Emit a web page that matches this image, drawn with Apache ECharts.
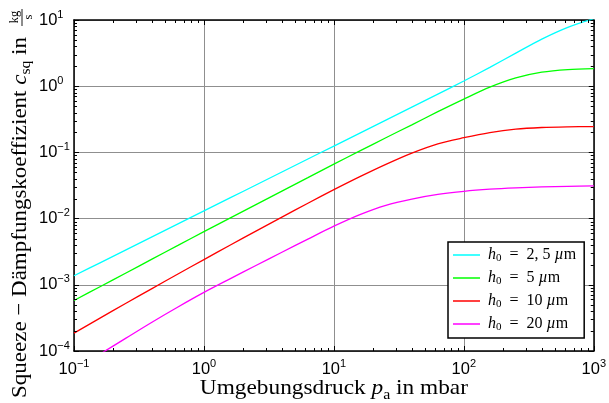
<!DOCTYPE html>
<html>
<head>
<meta charset="utf-8">
<script src="https://cdn.jsdelivr.net/npm/echarts@6/dist/echarts.min.js"></script>
<style>
  html, body { margin: 0; padding: 0; background: #fff; }
  #chart { width: 609px; height: 403px; }
</style>
</head>
<body>
<div id="chart"></div>
<script>
// Ambient pressure p_a in mbar (five samples per decade)
const pressure = [0.1, 0.1585, 0.2512, 0.3981, 0.631, 1, 1.585, 2.512, 3.981, 6.31, 10, 15.85, 25.12, 39.81, 63.1, 100, 158.5, 251.2, 398.1, 631, 1000];

// Squeeze-film damping coefficient c_sq in kg/s for each gap height h0
const csqGap2_5 = [1.368e-3, 2.148e-3, 3.373e-3, 5.297e-3, 8.318e-3, 0.01306, 0.02051, 0.03221, 0.05058, 0.07943, 0.1247, 0.1959, 0.3076, 0.4831, 0.7586, 1.197, 1.928, 3.162, 5.152, 7.762, 10.47];
const csqGap5   = [5.794e-4, 9.354e-4, 1.510e-3, 2.438e-3, 3.936e-3, 6.353e-3, 0.01016, 0.01626, 0.02600, 0.04159, 0.06653, 0.1054, 0.1663, 0.2612, 0.4121, 0.6383, 0.9661, 1.334, 1.629, 1.786, 1.845];
const csqGap10  = [1.866e-4, 3.141e-4, 5.260e-4, 8.770e-4, 1.455e-3, 2.404e-3, 3.954e-3, 6.471e-3, 0.01054, 0.01706, 0.02735, 0.04305, 0.06607, 0.09772, 0.1349, 0.1667, 0.1995, 0.2249, 0.2377, 0.2432, 0.2455];
const csqGap20  = [5.129e-5, 8.974e-5, 1.567e-4, 2.723e-4, 4.624e-4, 7.674e-4, 1.230e-3, 1.959e-3, 3.105e-3, 4.898e-3, 7.674e-3, 0.01148, 0.01585, 0.01972, 0.02317, 0.02582, 0.02780, 0.02917, 0.03013, 0.03076, 0.03112];

// Gap heights shown in the legend (µm, German decimal comma)
const gapLabels = ['2,5', '5', '10', '20'];
const seriesValues = [csqGap2_5, csqGap5, csqGap10, csqGap20];
const seriesColors = ['#00ffff', '#00ff00', '#ff0000', '#ff00ff'];

// Axis ranges (decades)
const xRange = [0.1, 1000];
const yRange = [1e-4, 10];

const SANS = 'Liberation Sans, Arial, sans-serif';
const SERIF = 'Liberation Serif, Times New Roman, serif';

const chart = echarts.init(document.getElementById('chart'), null, { renderer: 'canvas' });

function powerLabel(v) {
  const e = Math.round(Math.log10(v));
  return '{b|10}{e|' + (e < 0 ? '\u2212' + (-e) : String(e)) + '}';
}

const tickLabelRich = {
  b: { fontFamily: SANS, fontSize: 16.5, lineHeight: 22, color: '#000' },
  e: { fontFamily: SANS, fontSize: 11, lineHeight: 10, verticalAlign: 'top', color: '#000' }
};

const frameLine = { show: true, onZero: false, lineStyle: { color: '#000', width: 1.5 } };
const majorTick = { show: true, inside: true, length: 5, lineStyle: { color: '#000', width: 1 } };
const gridLine = { show: true, lineStyle: { color: '#8f8f8f', width: 1, type: 'solid' } };

function legendName(i) { return 'h0 = ' + gapLabels[i] + ' \u00b5m'; }

const legendRich = {
  h: { fontFamily: SERIF, fontStyle: 'italic', fontSize: 16, lineHeight: 18, color: '#000', padding: [0, 0, 0, 3] },
  s: { fontFamily: SERIF, fontSize: 11, lineHeight: 12, verticalAlign: 'bottom', color: '#000' },
  t: { fontFamily: SERIF, fontSize: 16, lineHeight: 18, color: '#000' },
  i: { fontFamily: SERIF, fontStyle: 'italic', fontSize: 16, lineHeight: 18, color: '#000' }
};

const option = {
  animation: false,
  backgroundColor: '#fff',
  grid: { left: 74, right: 12, top: 20, bottom: 52, containLabel: false },
  xAxis: [
    {
      type: 'log', logBase: 10, min: xRange[0], max: xRange[1], position: 'bottom',
      axisLine: frameLine, axisTick: majorTick, splitLine: gridLine,
      axisLabel: { show: true, margin: 7, formatter: powerLabel, rich: tickLabelRich }
    },
    {
      type: 'log', logBase: 10, min: xRange[0], max: xRange[1], position: 'top',
      axisLine: frameLine, axisTick: majorTick, splitLine: { show: false },
      axisLabel: { show: false }
    }
  ],
  yAxis: [
    {
      type: 'log', logBase: 10, min: yRange[0], max: yRange[1], position: 'left',
      axisLine: frameLine, axisTick: majorTick, splitLine: gridLine,
      axisLabel: { show: true, margin: 35, align: 'left', formatter: powerLabel, rich: tickLabelRich }
    },
    {
      type: 'log', logBase: 10, min: yRange[0], max: yRange[1], position: 'right',
      axisLine: frameLine, axisTick: majorTick, splitLine: { show: false },
      axisLabel: { show: false }
    }
  ],
  legend: {
    show: true, orient: 'vertical', left: 448, top: 242,
    padding: [5, 8, 5, 5], itemGap: 6, itemWidth: 27, itemHeight: 1.5,
    icon: 'rect', backgroundColor: '#fff', borderColor: '#000', borderWidth: 1.5, borderRadius: 0,
    selectedMode: false,
    data: gapLabels.map((g, i) => legendName(i)),
    formatter: function (name) {
      const i = gapLabels.findIndex((g, k) => legendName(k) === name);
      return '{h|h}{s|0}{t|  =  ' + gapLabels[i].replace(',', ', ') + ' }{i|\u00b5}{t|m}';
    },
    textStyle: { rich: legendRich }
  },
  series: seriesValues.map((vals, i) => ({
    name: legendName(i),
    type: 'line',
    xAxisIndex: 0, yAxisIndex: 0,
    data: pressure.map((p, k) => [p, vals[k]]),
    showSymbol: false, symbol: 'none',
    smooth: 0.3,
    clip: true,
    lineStyle: { color: seriesColors[i], width: 1.3 },
    itemStyle: { color: seriesColors[i] },
    z: 3
  }))
};

chart.setOption(option);

// Minor ticks at 2..9 of every decade, on all four sides, placed by the axis scales
const graphics = [];
const xl = chart.convertToPixel({ xAxisIndex: 0 }, xRange[0]);
const xr = chart.convertToPixel({ xAxisIndex: 0 }, xRange[1]);
const yb = chart.convertToPixel({ yAxisIndex: 0 }, yRange[0]);
const yt = chart.convertToPixel({ yAxisIndex: 0 }, yRange[1]);
const minorLen = 3;
const tickStyle = { stroke: '#000', lineWidth: 1 };

for (let e = Math.round(Math.log10(xRange[0])); e < Math.round(Math.log10(xRange[1])); e++) {
  for (let m = 2; m <= 9; m++) {
    const px = Math.round(chart.convertToPixel({ xAxisIndex: 0 }, m * Math.pow(10, e))) + 0.5;
    graphics.push({ type: 'line', silent: true, z: 10, shape: { x1: px, y1: yb, x2: px, y2: yb - minorLen }, style: tickStyle });
    graphics.push({ type: 'line', silent: true, z: 10, shape: { x1: px, y1: yt, x2: px, y2: yt + minorLen }, style: tickStyle });
  }
}
for (let e = Math.round(Math.log10(yRange[0])); e < Math.round(Math.log10(yRange[1])); e++) {
  for (let m = 2; m <= 9; m++) {
    const py = Math.round(chart.convertToPixel({ yAxisIndex: 0 }, m * Math.pow(10, e))) + 0.5;
    graphics.push({ type: 'line', silent: true, z: 10, shape: { x1: xl, y1: py, x2: xl + minorLen, y2: py }, style: tickStyle });
    graphics.push({ type: 'line', silent: true, z: 10, shape: { x1: xr, y1: py, x2: xr - minorLen, y2: py }, style: tickStyle });
  }
}

const titleRich = {
  t: { fontFamily: SERIF, fontSize: 22, lineHeight: 28, color: '#000' },
  i: { fontFamily: SERIF, fontStyle: 'italic', fontSize: 22, lineHeight: 28, color: '#000' },
  s: { fontFamily: SERIF, fontSize: 15, lineHeight: 17, verticalAlign: 'bottom', color: '#000' }
};

// x-axis title
graphics.push({
  type: 'text', silent: true, x: (xl + xr) / 2, y: 388.5, scaleX: 1.06,
  style: {
    text: '{t|Umgebungsdruck }{i|p}{s|a}{t| in mbar}',
    rich: titleRich, align: 'center', verticalAlign: 'middle'
  }
});

// y-axis title, read bottom to top, ending in the unit fraction kg/s
graphics.push({
  type: 'group', x: 27, y: 37, rotation: Math.PI / 2, silent: true,
  children: [
    {
      type: 'text', x: 0, y: -7, scaleX: 1.045,
      style: {
        text: '{t|Squeeze \u2212 D\u00e4mpfungskoeffizient }{i|c}{s|sq}{t| in}',
        rich: titleRich, align: 'right', verticalAlign: 'middle'
      }
    },
    {
      type: 'text', x: 20, y: -12,
      style: { text: 'kg', fontFamily: SERIF, fontSize: 12.5, fill: '#000', align: 'center', verticalAlign: 'middle' }
    },
    {
      type: 'line', shape: { x1: 11, y1: -5, x2: 28, y2: -5 },
      style: { stroke: '#000', lineWidth: 0.9 }
    },
    {
      type: 'text', x: 20, y: 2,
      style: { text: 's', fontFamily: SERIF, fontSize: 12.5, fill: '#000', align: 'center', verticalAlign: 'middle' }
    }
  ]
});

chart.setOption({ graphic: graphics });
</script>
</body>
</html>
